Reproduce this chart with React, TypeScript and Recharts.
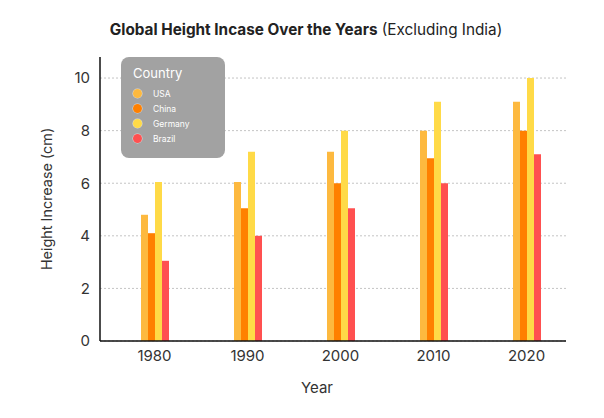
import React from "react";
import {
  BarChart,
  Bar,
  XAxis,
  YAxis,
  CartesianGrid,
} from "recharts";

// data
const years = ["1980", "1990", "2000", "2010", "2020"];
const usa = [4.8, 6.05, 7.2, 8.0, 9.1];
const china = [4.1, 5.05, 6.0, 6.95, 8.0];
const germany = [6.05, 7.2, 8.0, 9.1, 10.0];
const brazil = [3.05, 4.0, 5.05, 6.0, 7.1];
const yTicks = [0, 2, 4, 6, 8, 10];

const countries = [
  { key: "USA", color: "#FDB93F" },
  { key: "China", color: "#FF8000" },
  { key: "Germany", color: "#FFDA47" },
  { key: "Brazil", color: "#FF5050" },
];

const FONT = "Inter, 'Open Sans', sans-serif";

export default function App() {
  const data = years.map((year, i) => ({
    year,
    USA: usa[i],
    China: china[i],
    Germany: germany[i],
    Brazil: brazil[i],
  }));

  return (
    <div
      style={{
        position: "absolute",
        left: 0,
        top: 0,
        width: 604,
        height: 418,
        background: "#fff",
        fontFamily: FONT,
      }}
    >
      <div
        style={{
          position: "absolute",
          top: 20,
          left: 0,
          width: 612,
          textAlign: "center",
          fontSize: 15.3,
          color: "#222",
        }}
      >
        <b>Global Height Incase Over the Years</b> (Excluding India)
      </div>

      <BarChart
        width={604}
        height={418}
        data={data}
        margin={{ top: 57, right: 38, bottom: 25, left: 40 }}
        barGap={0}
        barSize={7}
      >
        <CartesianGrid
          strokeDasharray="2 2"
          stroke="#c4c4c4"
          vertical={false}
          syncWithTicks
        />
        <XAxis
          dataKey="year"
          height={52}
          padding={{ left: 8, right: -7 }}
          tickLine={false}
          axisLine={{ stroke: "#111", strokeWidth: 1.5 }}
          tick={{ fill: "#333", fontSize: 15, fontFamily: FONT }}
          tickMargin={3}
          label={{
            value: "Year",
            position: "insideBottom",
            offset: 0,
            dx: -16,
            fill: "#333",
            fontSize: 15,
            fontFamily: FONT,
          }}
        />
        <YAxis
          width={60}
          domain={[0, 10.8]}
          ticks={yTicks}
          tickLine={false}
          axisLine={{ stroke: "#111", strokeWidth: 1.5 }}
          tick={{ fill: "#333", fontSize: 15, fontFamily: FONT }}
          tickMargin={4}
          label={{
            value: "Height Increase (cm)",
            angle: -90,
            position: "insideLeft",
            offset: 7,
            fill: "#333",
            fontSize: 14.4,
            fontFamily: FONT,
            style: { textAnchor: "middle" },
          }}
        />
        {countries.map((c) => (
          <Bar
            key={c.key}
            dataKey={c.key}
            fill={c.color}
            isAnimationActive={false}
          />
        ))}
      </BarChart>

      {/* legend box sits over the plot */}
      <div
        style={{
          position: "absolute",
          left: 121,
          top: 57,
          width: 104,
          height: 101,
          borderRadius: 8,
          background: "#a2a2a2",
          color: "#fff",
          boxSizing: "border-box",
          padding: "8px 0 0 12px",
        }}
      >
        <div style={{ fontSize: 13, marginBottom: 5 }}>Country</div>
        {countries.map((c) => (
          <div
            key={c.key}
            style={{
              display: "flex",
              alignItems: "center",
              height: 15,
              fontSize: 8.5,
            }}
          >
            <span
              style={{
                display: "inline-block",
                width: 9,
                height: 9,
                borderRadius: "50%",
                background: c.color,
                marginLeft: 0,
                marginRight: 11,
                boxShadow: "0 0 0 0.5px rgba(255,255,255,0.6)",
              }}
            />
            {c.key}
          </div>
        ))}
      </div>
    </div>
  );
}
